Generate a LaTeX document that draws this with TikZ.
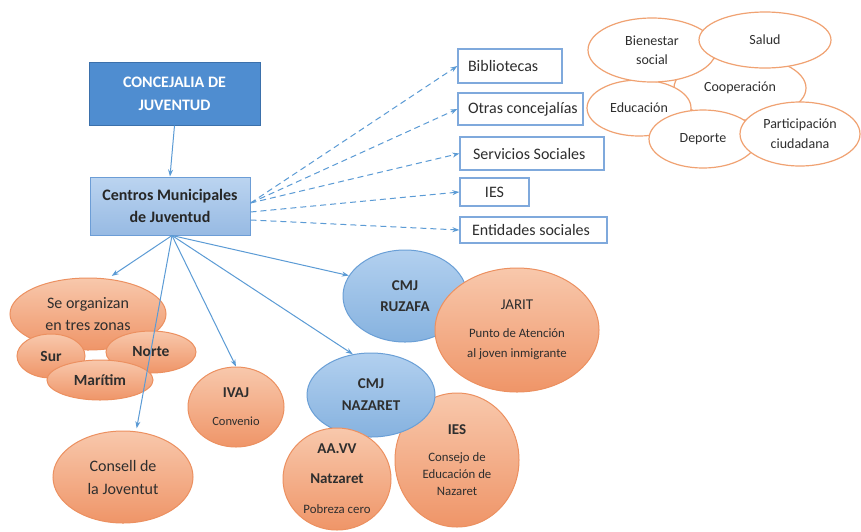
\documentclass[tikz,border=0pt]{standalone}
\usepackage{fontspec}
\setmainfont{Carlito}
\usetikzlibrary{shapes.geometric,arrows.meta}
\definecolor{txt}{HTML}{2E2E2E}
\definecolor{concFill}{HTML}{4F8DD0}
\definecolor{concLine}{HTML}{3B70AB}
\definecolor{centTop}{HTML}{BBD4F0}
\definecolor{centBot}{HTML}{97BAE3}
\definecolor{centLine}{HTML}{6C9DD6}
\definecolor{arC}{HTML}{5B9BD5}
\definecolor{bxLine}{HTML}{7FA9DC}
\definecolor{orTop}{HTML}{F8C8AC}
\definecolor{orBot}{HTML}{EF9568}
\definecolor{orLine}{HTML}{EC9060}
\definecolor{whLine}{HTML}{F0A272}
\definecolor{blTop}{HTML}{B2D0EF}
\definecolor{blBot}{HTML}{86B2DF}
\definecolor{blLine}{HTML}{6A9FD6}
\begin{document}
\begin{tikzpicture}[x=1pt,y=-1pt,
  every node/.style={text=txt},
  esz/.style 2 args={minimum width=#1pt, minimum height=#2pt},
  orel/.style={ellipse, draw=orLine, line width=1pt, top color=orTop, bottom color=orBot, inner sep=0pt, align=center},
  blel/.style={ellipse, draw=blLine, line width=1pt, top color=blTop, bottom color=blBot, inner sep=0pt, align=center},
  whel/.style={ellipse, draw=whLine, line width=1.2pt, fill=white, inner sep=0pt, align=center, font=\fontsize{14}{19}\selectfont},
  sbox/.style={rectangle, draw=bxLine, line width=1.3pt, fill=white, inner xsep=10pt, inner ysep=0pt, font=\fontsize{16}{18}\selectfont},
  arr/.style={draw=arC, line width=1pt, -{Stealth[length=7pt,width=5pt]}},
  darr/.style={arr, dash pattern=on 6pt off 4pt},
]
\useasboundingbox[fill=white] (0,0) rectangle (861,531);

% main boxes
\node[draw=concLine, fill=concFill, line width=1pt, minimum width=171pt, minimum height=63pt, inner sep=0pt, align=center, text=white, font=\bfseries\fontsize{16}{23}\selectfont] (conc) at (174.5,93.5) {CONCEJALIA DE\\JUVENTUD};
\node[draw=centLine, top color=centTop, bottom color=centBot, line width=1pt, minimum width=160pt, minimum height=58pt, inner sep=0pt, align=center, text=black!85, font=\bfseries\fontsize{16}{22}\selectfont] (cent) at (170,206) {Centros Municipales\\de Juventud};

% right boxes
\node[sbox, minimum height=34pt] (bib) at (510,66) {\makebox[84pt][l]{Bibliotecas}};
\node[sbox, minimum height=32pt] (otr) at (520.5,109) {\makebox[105pt][l]{Otras concejalías}};
\node[sbox, minimum height=33pt] (ser) at (532,153.5) {\makebox[124pt][l]{\hspace{3pt}Servicios Sociales}};
\node[sbox, minimum height=28pt] (iesb) at (494.5,192) {\makebox[49pt][c]{IES}};
\node[sbox, minimum height=26pt] (ent) at (533.5,230) {\makebox[127pt][l]{\hspace{2pt}Entidades sociales}};

% top-right ellipses
\node[whel, esz={132}{64}] (coop) at (740,88) {Cooperación};
\node[whel, esz={104}{56}] (edu) at (639,108) {Educación};
\node[whel, esz={128}{64}] (bien) at (652,50) {Bienestar\\social};
\node[whel, esz={132}{56}] (salud) at (765,40) {Salud};
\node[whel, esz={108}{58}] (dep) at (703,139) {Deporte};
\node[whel, esz={120}{64}, font=\fontsize{14}{20}\selectfont] (part) at (800,134) {Participación\\ciudadana};

% lower-left cluster
\node[orel, esz={156}{72}, font=\fontsize{16}{22}\selectfont] (se) at (88,314) {Se organizan\\en tres zonas};
\node[orel, esz={68}{44}, font=\bfseries\fontsize{15.5}{16}\selectfont] (sur) at (51,356) {Sur};
\node[orel, esz={90}{42}, font=\bfseries\fontsize{15.5}{16}\selectfont] (norte) at (151,352) {Norte};
\node[orel, esz={106}{40}, font=\bfseries\fontsize{15.5}{16}\selectfont] (mar) at (100,380) {Marítim};
\node[orel, esz={96}{80}, font=\fontsize{12.5}{28}\selectfont] (ivaj) at (236,407) {{\bfseries\fontsize{15}{16}\selectfont IVAJ}\\Convenio};
\node[orel, esz={140}{92}, font=\fontsize{16}{23}\selectfont] (cons) at (123,477) {Consell de\\la Joventut};

% CMJ clusters
\node[blel, esz={124}{92}, font=\bfseries\fontsize{15}{21}\selectfont] (ruz) at (405,296) {CMJ\\RUZAFA};
\node[orel, esz={164}{124}, font=\fontsize{12.8}{20}\selectfont] (jarit) at (517,330) {{\fontsize{15}{16}\selectfont JARIT}\\[8pt]Punto de Atención\\al joven inmigrante};
\node[orel, esz={124}{134}, font=\fontsize{12.8}{17}\selectfont] (ies) at (457,460) {{\bfseries\fontsize{15}{16}\selectfont IES}\\[10pt]Consejo de\\Educación de\\Nazaret};
\node[blel, esz={128}{84}, font=\bfseries\fontsize{15}{22}\selectfont] (naz) at (371,395) {CMJ\\NAZARET};
\node[orel, esz={108}{102}, font=\fontsize{15}{30}\selectfont] (aavv) at (337,479) {{\bfseries AA.VV}\\{\bfseries Natzaret}\\{\fontsize{12.8}{14}\selectfont Pobreza cero}};

% connectors
\draw[arr] (conc.south) -- (cent.north);

\coordinate (ce1) at ([yshift=3pt]cent.east);
\coordinate (ce2) at ([yshift=-6pt]cent.east);
\coordinate (ce3) at ([yshift=-14pt]cent.east);
\draw[darr] (ce1) -- (bib.west);
\draw[darr] (ce1) -- (otr.west);
\draw[darr] (ce1) -- (ser.west);
\draw[darr] (ce2) -- (iesb.west);
\draw[darr] (ce3) -- (ent.west);

\coordinate (cb) at ([xshift=2pt]cent.south);
\draw[arr, shorten >=5pt] (cb) -- (se.61);
\draw[arr, shorten >=3pt] (cb) -- (cons.74);
\draw[arr] (cb) -- (ivaj.north);
\draw[arr] (cb) -- (ruz.160);
\draw[arr] (cb) -- (naz.114);
\end{tikzpicture}
\end{document}
